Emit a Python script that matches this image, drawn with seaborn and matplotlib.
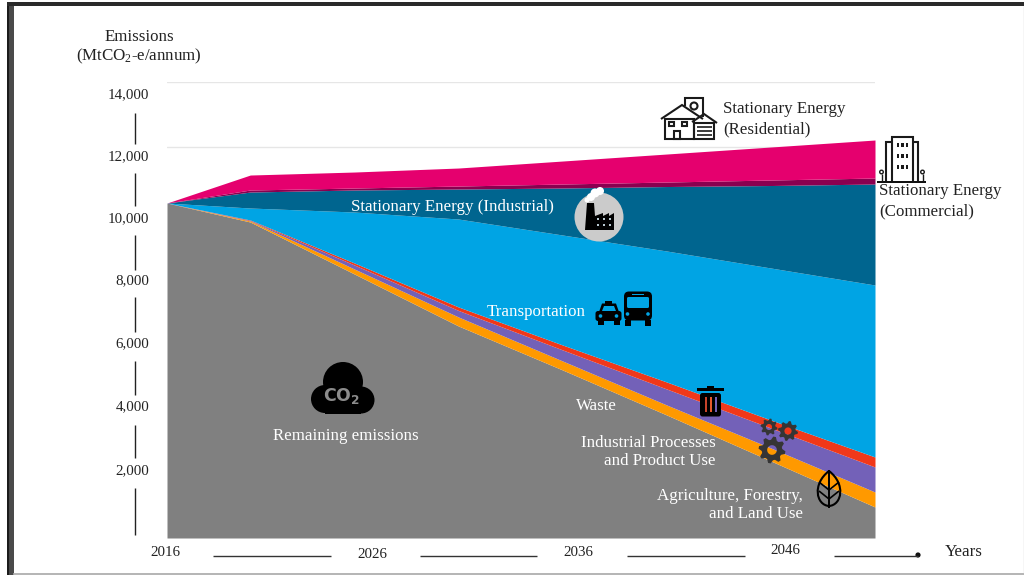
import numpy as np
import pandas as pd
import matplotlib
matplotlib.use('Agg')
import matplotlib.pyplot as plt
from matplotlib.patches import Circle, Rectangle, Polygon, PathPatch, FancyBboxPatch
from matplotlib.path import Path
import seaborn as sns

years = [2016, 2020, 2025, 2030, 2035, 2040, 2045, 2050]
remaining = [10285, 9701, 8105, 6508, 5158, 3776, 2364, 952]
agriculture = [0, 31, 153, 277, 276, 307, 399, 460]
industrial_processes = [0, 15, 123, 200, 340, 491, 614, 768]
waste = [0, 16, 62, 107, 151, 215, 246, 307]
transportation = [0, 368, 1565, 2701, 3377, 4022, 4666, 5280]
stationary_industrial = [0, 491, 676, 921, 1443, 1980, 2533, 3101]
stationary_commercial = [0, 62, 61, 92, 123, 138, 169, 184]
stationary_residential = [0, 460, 491, 553, 706, 860, 1013, 1167]

y_labels = ['14,000', '12,000', '10,000', '8,000', '6,000', '4,000', '2,000']
x_labels = ['2016', '2026', '2036', '2046']

layer_colors = ['#808080', '#ff9900', '#7361b8', '#f0381a',
                '#00a4e4', '#00658f', '#8a0050', '#e5006e']

W, H = 1024, 575

sns.set_theme(style='white')
plt.rcParams['font.family'] = ['Liberation Serif', 'DejaVu Serif']
plt.rcParams['mathtext.default'] = 'regular'

df = pd.DataFrame({'year': years, 'remaining': remaining, 'agriculture': agriculture,
                   'ippu': industrial_processes, 'waste': waste, 'transport': transportation,
                   'industrial': stationary_industrial, 'commercial': stationary_commercial,
                   'residential': stationary_residential}).set_index('year')

fig = plt.figure(figsize=(W / 100, H / 100), dpi=100, facecolor='white')

# chart area, pixel box 167..875 x 82..538
ax = fig.add_axes([167 / W, 1 - 538 / H, (875 - 167) / W, (538 - 82) / H])
ax.stackplot(df.index, df.T.values, colors=sns.color_palette(layer_colors), linewidth=0, zorder=2)
ax.set_xlim(2016, 2050)
ax.set_ylim(0, 14000)
ax.set_yticks([12000, 14000])
ax.set_yticklabels([])
ax.set_xticks([])
ax.tick_params(left=False)
ax.yaxis.grid(True, color='#e6e6e6', linewidth=1, zorder=0)
ax.patch.set_alpha(0)
ax.set_clip_on(False)
sns.despine(ax=ax, left=True, bottom=True)

# overlay in picture pixels for the hand drawn axes, labels and icons
ov = fig.add_axes([0, 0, 1, 1])
ov.set_xlim(0, W)
ov.set_ylim(H, 0)
ov.axis('off')
ov.patch.set_alpha(0)

TXT = '#222222'
FS = 12.2
TICK_FS = 10.8


def label(x, y, s, color=TXT, ha='center', size=FS, **kw):
    ov.text(x, y + 1, s, color=color, ha=ha, va='center', fontsize=size, **kw)


def seg(x0, y0, x1, y1, color='#222222', lw=1.0):
    ov.plot([x0, x1], [y0, y1], color=color, lw=lw, solid_capstyle='butt')


# frame
ov.add_patch(Rectangle((7, 2), 6.5, H, fc='#4a4a4a', ec='none'))
ov.add_patch(Rectangle((7, 2), 2, H, fc='#1c1c1c', ec='none'))
ov.add_patch(Rectangle((7, 2), W, 4, fc='#2a2a2a', ec='none'))
seg(13, 573.5, W, 573.5, color='#a8a8a8', lw=1.2)
seg(1023.5, 6, 1023.5, 573, color='#d5d5d5', lw=1)

# y axis
label(139, 36, 'Emissions')
label(139, 55, '(MtCO$_2$-e/annum)')
for s, py in zip(y_labels, [94, 156, 218, 280, 343, 406, 470]):
    label(149, py, s, ha='right', size=TICK_FS)
for y0, y1 in [(113, 144), (173, 206), (235, 270), (297, 332), (361, 395), (425, 458), (488, 535)]:
    seg(134.5, y0, 134.5, y1)

# x axis
for s, px, py in zip(x_labels, [165, 372, 578, 785], [552, 553, 551, 550]):
    label(px, py, s, size=TICK_FS)
label(964, 551, 'Years')
for x0, x1 in [(213, 331), (420, 537), (627, 745), (834, 918)]:
    seg(x0, 556, x1, 556, color='#333333')
ov.add_patch(Circle((918, 555), 2.6, fc='#111111', ec='none'))

# series labels
label(351, 206, 'Stationary Energy (Industrial)', color='white', ha='left')
label(487, 311, 'Transportation', color='white', ha='left')
label(273, 435, 'Remaining emissions', color='white', ha='left')
label(576, 405, 'Waste', color='white', ha='left')
label(716, 442, 'Industrial Processes', color='white', ha='right')
label(716, 460, 'and Product Use', color='white', ha='right')
label(803, 495, 'Agriculture, Forestry,', color='white', ha='right')
label(803, 513, 'and Land Use', color='white', ha='right')
label(723, 108, 'Stationary Energy', ha='left')
label(723, 128, '(Residential)', ha='left')
label(879, 190, 'Stationary Energy', ha='left')
label(879, 210, '(Commercial)', ha='left')

# CO2 cloud
for cx, cy, r in [(343, 382, 20), (325, 399, 14), (361, 400, 13.5)]:
    ov.add_patch(Circle((cx, cy), r, fc='black', ec='none'))
ov.add_patch(Rectangle((325, 395), 36, 18.5, fc='black', ec='none'))
ov.text(342, 395.5, 'CO$_2$', color='#8c8c8c', ha='center', va='center', fontsize=12.5,
        family='DejaVu Sans', fontweight='bold', math_fontfamily='dejavusans')

# factory
ov.add_patch(Circle((599, 217), 24.5, fc='#cbcbcb', ec='none'))
ov.add_patch(Polygon([(585, 230), (587, 203), (594, 203), (595, 216), (603, 213), (603, 216),
                      (609, 213), (609, 216), (614, 213), (614, 230)], fc='black', ec='none'))
for cx, cy, r in [(591, 197, 4), (595, 193, 4.5), (600, 191, 4), (587, 200, 2.5)]:
    ov.add_patch(Circle((cx, cy), r, fc='white', ec='none'))
for wx in [598, 604, 610]:
    for wy in [219, 225]:
        ov.add_patch(Rectangle((wx - 1.2, wy - 1.2), 2.4, 2.4, fc='#b8c8d0', ec='none'))

# taxi
ov.add_patch(FancyBboxPatch((595.5, 311), 26, 10, boxstyle='round,pad=0,rounding_size=2.5', fc='black', ec='none'))
ov.add_patch(Polygon([(599, 312), (602, 303.5), (616, 303.5), (619, 312)], fc='black', ec='none'))
ov.add_patch(Rectangle((605, 301), 7, 3, fc='black', ec='none'))
ov.add_patch(Polygon([(602, 311), (604, 306), (614, 306), (616, 311)], fc='#00a4e4', ec='none'))
for wx in [600.5, 616.5]:
    ov.add_patch(Circle((wx, 316), 1.8, fc='#00a4e4', ec='none'))
for wx in [600.5, 616.5]:
    ov.add_patch(Rectangle((wx - 3, 320), 6, 5, fc='black', ec='none'))

# bus
ov.add_patch(FancyBboxPatch((624, 291.5), 28, 29, boxstyle='round,pad=0,rounding_size=5', fc='black', ec='none'))
ov.add_patch(FancyBboxPatch((627, 297), 22, 11, boxstyle='round,pad=0,rounding_size=1.5', fc='#00a4e4', ec='none'))
ov.add_patch(Rectangle((632, 293.5), 12, 1.5, fc='#00a4e4', ec='none'))
for wx in [627.5, 648]:
    ov.add_patch(Circle((wx, 314), 1.8, fc='#00a4e4', ec='none'))
for wx in [628, 648]:
    ov.add_patch(Rectangle((wx - 3, 320), 6, 5.5, fc='black', ec='none'))

# bin
ov.add_patch(Rectangle((697, 388), 27, 2.5, fc='black', ec='none'))
ov.add_patch(Rectangle((707, 386), 7, 2, fc='black', ec='none'))
ov.add_patch(FancyBboxPatch((700, 393), 21, 23.5, boxstyle='round,pad=0,rounding_size=2.5', fc='black', ec='none'))
for wx, c in [(704.5, '#c8432a'), (709.5, '#e85a2c'), (714.5, '#7361b8')]:
    ov.add_patch(Rectangle((wx, 397), 2.4, 15, fc=c, ec='none'))


def gear(cx, cy, r, teeth=8):
    angles = np.linspace(0, 2 * np.pi, teeth * 4, endpoint=False) + np.pi / (teeth * 4)
    radii = np.tile([r, r, r * 0.76, r * 0.76], teeth)
    outer = np.c_[cx + radii * np.cos(angles), cy + radii * np.sin(angles)]
    t = np.linspace(0, 2 * np.pi, 25)
    inner = np.c_[cx + r * 0.36 * np.cos(-t), cy + r * 0.36 * np.sin(-t)]
    verts = np.vstack([outer, outer[:1], inner])
    codes = [Path.MOVETO] + [Path.LINETO] * (len(outer) - 1) + [Path.CLOSEPOLY]
    codes += [Path.MOVETO] + [Path.LINETO] * (len(inner) - 1)
    ov.add_patch(PathPatch(Path(verts, codes), fc='#353535', ec='none'))


gear(769, 427, 8.5)
gear(788, 431, 10)
gear(772, 450, 13.5)

# leaf
leaf = Path([(829, 471), (812, 484), (816, 505), (829, 506), (842, 505), (846, 484), (829, 471)],
            [Path.MOVETO, Path.CURVE4, Path.CURVE4, Path.CURVE4, Path.CURVE4, Path.CURVE4, Path.CURVE4])
ov.add_patch(PathPatch(leaf, fc='none', ec='black', lw=1.5))
seg(829, 470, 829, 508, color='black', lw=1.4)
for vy in [482, 491]:
    seg(829, vy + 8, 819, vy, color='black', lw=1.2)
    seg(829, vy + 8, 839, vy, color='black', lw=1.2)

# house
LINE = dict(fc='none', ec='#1a1a1a', lw=1.5)
ov.add_patch(Polygon([(685, 106), (685, 98), (703, 98), (703, 117)], closed=False, **LINE))
ov.add_patch(Circle((694, 106), 3.5, **LINE))
ov.add_patch(Polygon([(661, 119), (682, 105), (703, 119)], closed=False, **LINE))
ov.add_patch(Rectangle((665, 119), 29, 20, **LINE))
ov.add_patch(Polygon([(692, 122), (704, 114), (717, 123)], closed=False, **LINE))
ov.add_patch(Rectangle((694, 123), 20, 16, **LINE))
ov.add_patch(Rectangle((669, 122), 5, 4, **LINE))
ov.add_patch(Rectangle((682, 122), 5, 4, **LINE))
ov.add_patch(Rectangle((674, 131), 6, 8, **LINE))
for gy in [127, 131, 135]:
    seg(697, gy, 712, gy, color='#1a1a1a', lw=1.2)

# office block
ov.add_patch(Polygon([(892, 181), (892, 137), (913, 137), (913, 181)], closed=False, **LINE))
ov.add_patch(Polygon([(892, 142), (886, 142), (886, 181)], closed=False, **LINE))
ov.add_patch(Polygon([(913, 142), (918, 142), (918, 181)], closed=False, **LINE))
for wx in [898, 902.5, 907]:
    for wy in [145, 156, 167]:
        ov.add_patch(Rectangle((wx - 1.2, wy - 1.7), 2.4, 3.4, fc='#1a1a1a', ec='none'))
ov.add_patch(Rectangle((877, 180.5), 49, 2, fc='#111111', ec='none'))
for tx in [881.5, 922.5]:
    ov.add_patch(Circle((tx, 172), 1.8, fc='none', ec='#1a1a1a', lw=1))
    seg(tx, 174, tx, 181, color='#1a1a1a', lw=1)

plt.savefig('out.png', dpi=100)
